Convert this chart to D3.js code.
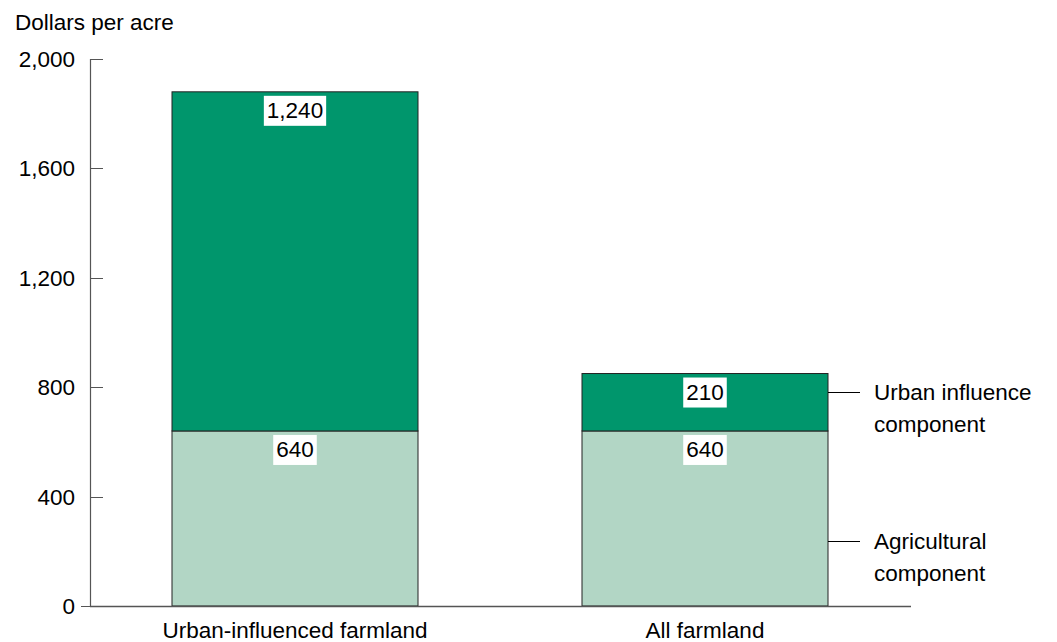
<!DOCTYPE html>
<html><head><meta charset="utf-8">
<script src="https://cdn.jsdelivr.net/npm/d3@7"></script>
<style>body{margin:0;background:#fff;}svg{display:block;font-family:"Liberation Sans",Arial,sans-serif;}</style>
</head><body><svg id="c" width="1057" height="642"></svg>
<script>
const categories = ["Urban-influenced farmland", "All farmland"];
const agricultural = [640, 640];
const urbanInfluence = [1240, 210];
const yTicks = [0, 400, 800, 1200, 1600, 2000];
const seriesNames = ["Agricultural component", "Urban influence component"];
const colors = ["#b2d6c5", "#00966c"];
const FS = 22.5;

const svg = d3.select("#c");
const y = d3.scaleLinear().domain([0, 2000]).range([606, 59]);
const x = d3.scaleBand().domain(categories).range([90, 910]).paddingInner(0.4).paddingOuter(0.2);
const fmt = d3.format(",");

const data = categories.map((c, i) => ({cat: c, agricultural: agricultural[i], urban: urbanInfluence[i]}));
const stack = d3.stack().keys(["agricultural", "urban"])(data);

// bars
stack.forEach((layer, li) => {
  svg.append("g").selectAll("rect").data(layer).join("rect")
    .attr("x", d => x(d.data.cat)).attr("width", x.bandwidth())
    .attr("y", d => y(d[1])).attr("height", d => y(d[0]) - y(d[1]))
    .attr("fill", colors[li]).attr("stroke", "#222").attr("stroke-width", 1);
});

// value labels with white boxes
stack.forEach((layer, li) => {
  layer.forEach(d => {
    const v = d[1] - d[0];
    const cx = x(d.data.cat) + x.bandwidth() / 2;
    const ty = y(d[1]) + 26;
    const g = svg.append("g");
    const t = g.append("text").attr("x", cx).attr("y", ty).attr("text-anchor", "middle")
      .attr("font-size", FS).attr("fill", "#000").text(fmt(v));
    const bb = t.node().getBBox();
    g.insert("rect", "text").attr("x", bb.x - 3).attr("y", y(d[1]) + 4).attr("width", bb.width + 6).attr("height", 30).attr("fill", "#fff");
  });
});

// y axis
const yAxis = svg.append("g");
yAxis.append("line").attr("x1", 90.5).attr("x2", 90.5).attr("y1", y(2000)).attr("y2", y(0)).attr("stroke", "#555").attr("stroke-width", 1.2);
yAxis.selectAll(".tk").data(yTicks.filter(t => t > 0)).join("line")
  .attr("x1", 91).attr("x2", 103).attr("y1", d => Math.round(y(d)) + 0.5).attr("y2", d => Math.round(y(d)) + 0.5)
  .attr("stroke", "#555");
yAxis.append("line").attr("x1", 81).attr("x2", 91).attr("y1", y(0) + 0.5).attr("y2", y(0) + 0.5).attr("stroke", "#555");
yAxis.selectAll("text").data(yTicks).join("text")
  .attr("x", 75).attr("y", d => y(d) + 8).attr("text-anchor", "end").attr("font-size", FS).attr("fill", "#000")
  .text(d => fmt(d));
// x baseline
svg.append("line").attr("x1", 90).attr("x2", 911).attr("y1", y(0) + 0.5).attr("y2", y(0) + 0.5).attr("stroke", "#555").attr("stroke-width", 1.5);

// axis title
svg.append("text").attr("x", 15).attr("y", 30).attr("font-size", FS).attr("fill", "#000").text("Dollars per acre");

// category labels
svg.selectAll(".cat").data(categories).join("text")
  .attr("x", d => x(d) + x.bandwidth() / 2).attr("y", 638).attr("text-anchor", "middle")
  .attr("font-size", FS).attr("fill", "#000").text(d => d);

// legend callouts on last bar
const last = data[data.length - 1];
const lx = x(last.cat) + x.bandwidth();
const legendY = [y(last.agricultural * 0.37), y(last.agricultural + last.urban * 0.68)];
const legendLines = [["Agricultural", "component"], ["Urban influence", "component"]];
legendY.forEach((ly, i) => {
  svg.append("line").attr("x1", lx).attr("x2", lx + 32).attr("y1", Math.round(ly) + 0.5).attr("y2", Math.round(ly) + 0.5).attr("stroke", "#000");
  const t = svg.append("text").attr("x", 874).attr("y", ly + 8).attr("font-size", FS).attr("fill", "#000");
  legendLines[i].forEach((s, k) => t.append("tspan").attr("x", 874).attr("dy", k === 0 ? 0 : 32).text(s));
});
</script></body></html>
